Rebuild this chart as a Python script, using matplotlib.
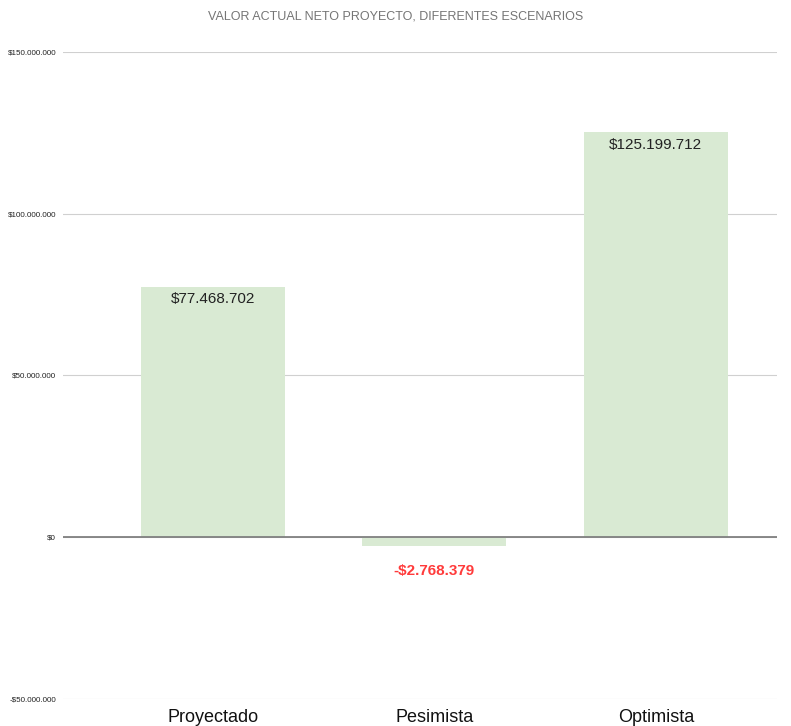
import matplotlib.pyplot as plt
from matplotlib.ticker import FuncFormatter

plt.rcParams['font.family'] = ['Liberation Sans', 'DejaVu Sans']

escenarios = ['Proyectado', 'Pesimista', 'Optimista']
van = [77468702, -2768379, 125199712]
etiquetas = ['$77.468.702', '-$2.768.379', '$125.199.712']
ticks = [-50000000, 0, 50000000, 100000000, 150000000]


def money(v, pos=None):
    s = '{:,.0f}'.format(abs(v)).replace(',', '.')
    return ('-$' if v < 0 else '$') + s


fig = plt.figure(figsize=(7.91, 7.26), dpi=100)
ax = fig.add_axes([0.0796, 0.0372, 0.9024, 0.8912])

x = list(range(len(escenarios)))
ax.bar(x, van, width=0.65, color='#d9ead3', zorder=2)

for xi, v, lab in zip(x, van, etiquetas):
    if v >= 0:
        ax.text(xi, v - 1.8e6, lab, ha='center', va='top', fontsize=11, color='#222222', zorder=3)
    else:
        ax.text(xi, v - 5.5e6, lab, ha='center', va='top', fontsize=11, color='#ff3b3b',
                fontweight='bold', zorder=3)

ax.set_ylim(-50000000, 150000000)
ax.set_xlim(-0.677, 2.546)
ax.set_yticks(ticks)
ax.yaxis.set_major_formatter(FuncFormatter(money))
ax.tick_params(axis='y', length=0, labelsize=5.8, labelcolor='#222222', pad=5)
ax.set_xticks(x)
ax.set_xticklabels(escenarios, fontsize=13, color='#111111')
ax.tick_params(axis='x', length=0, pad=7)
ax.grid(axis='y', color='#d0d0d0', linewidth=0.8, zorder=0)
ax.axhline(0, color='#808080', linewidth=1.3, zorder=3)
for s in ax.spines.values():
    s.set_visible(False)

fig.text(0.5, 0.977, 'VALOR ACTUAL NETO PROYECTO, DIFERENTES ESCENARIOS', ha='center', va='center',
         fontsize=9, color='#757575')

fig.savefig('out.png', dpi=100)
